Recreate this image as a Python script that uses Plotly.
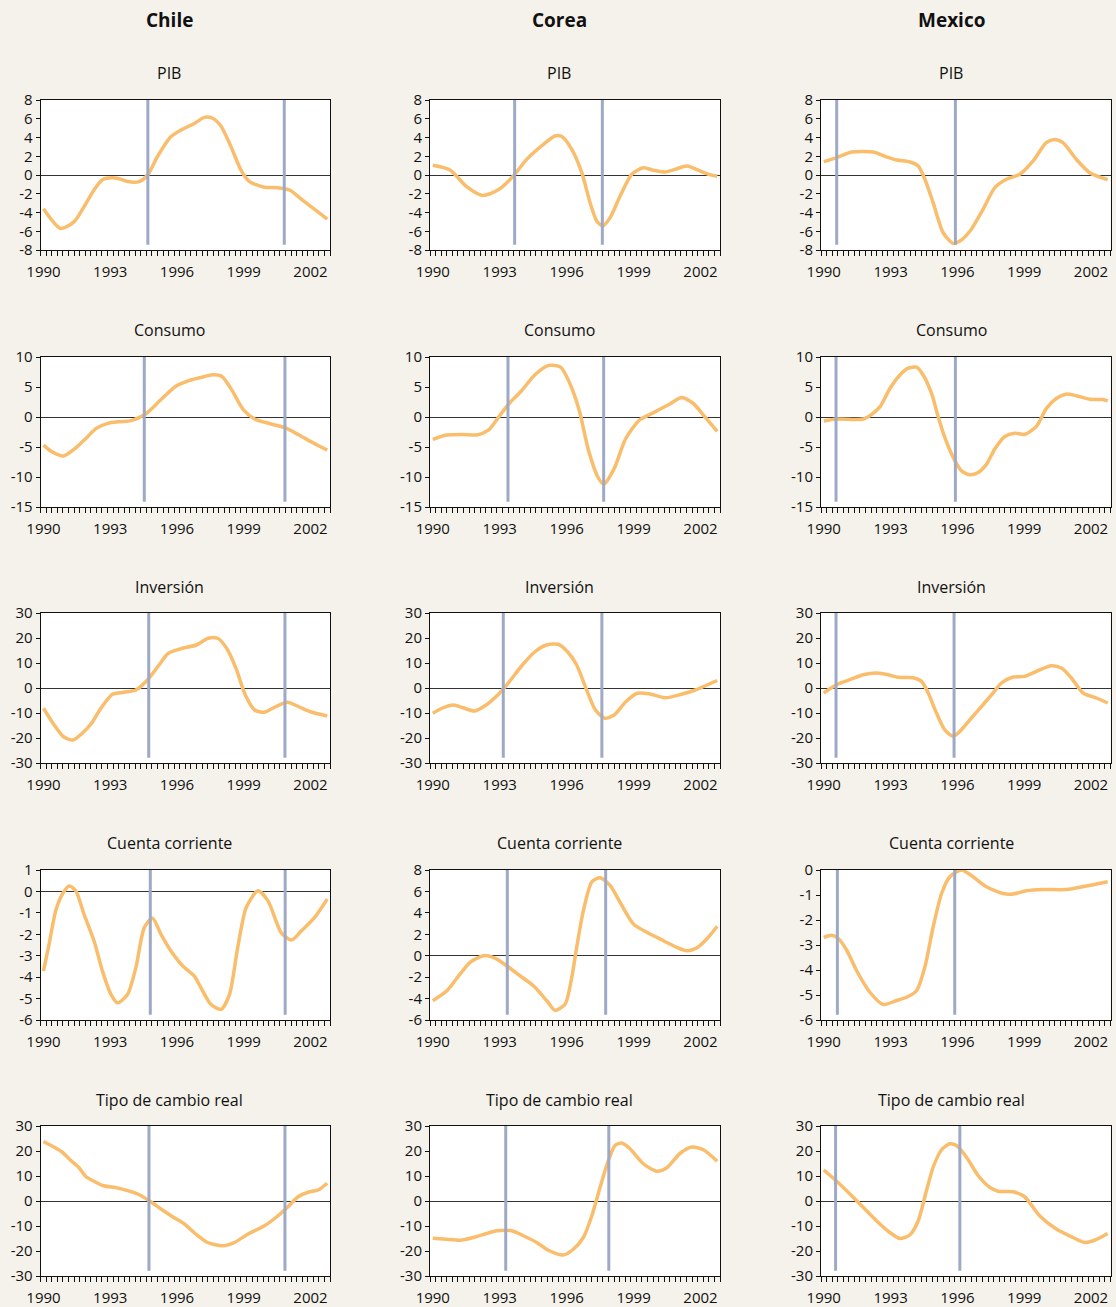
import plotly.graph_objects as go

W, H = 1116, 1307

countries = ["Chile", "Corea", "Mexico"]
indicators = ["PIB", "Consumo", "Inversión", "Cuenta corriente", "Tipo de cambio real"]
x_tick_vals = [1990, 1993, 1996, 1999, 2002]
x_tick_text = ["1990", "1993", "1996", "1999", "2002"]

# ---------------- Chile ----------------
chile_pib_t = [1990.0, 1990.77, 1991.37, 1991.82, 1992.27, 1992.65, 1993.1, 1993.4, 1993.78, 1994.3, 1994.68,
               1995.13, 1995.73, 1996.18, 1996.78, 1997.23, 1997.6, 1997.98, 1998.43, 1998.88, 1999.26,
               1999.93, 2000.5, 2001.06, 2001.6, 2002.2, 2002.75]
chile_pib_v = [-3.6, -5.7, -5.0, -3.4, -1.6, -0.5, -0.3, -0.4, -0.7, -0.7, 0.0,
               2.0, 4.1, 4.8, 5.5, 6.15, 6.05, 5.2, 3.0, 0.5, -0.7,
               -1.3, -1.35, -1.6, -2.6, -3.7, -4.7]

chile_cons_t = [1990.0, 1990.38, 1990.9, 1991.42, 1991.95, 1992.37, 1992.89, 1993.41, 1993.94, 1994.57, 1995.19,
                1995.93, 1996.56, 1997.08, 1997.6, 1998.02, 1998.44, 1998.97, 1999.49, 2000.23, 2000.85,
                2001.48, 2002.11, 2002.75]
chile_cons_v = [-4.7, -5.8, -6.5, -5.25, -3.4, -1.9, -1.06, -0.78, -0.6, 0.45, 2.57,
                5.08, 6.09, 6.6, 7.04, 6.76, 4.64, 1.28, -0.34, -1.17, -1.79,
                -3.0, -4.3, -5.53]

chile_inv_t = [1990.0, 1990.48, 1990.9, 1991.32, 1991.74, 1992.16, 1992.58, 1993.1, 1993.63, 1994.15, 1994.67,
               1995.3, 1995.61, 1996.24, 1996.87, 1997.4, 1997.82, 1998.23, 1998.65, 1999.07, 1999.49,
               1999.91, 2000.43, 2000.96, 2001.48, 2002.0, 2002.75]
chile_inv_v = [-8.1, -14.8, -19.5, -20.8, -18.1, -14.1, -8.1, -2.5, -1.7, -0.8, 3.2,
               10.5, 13.9, 15.9, 17.2, 19.9, 19.9, 15.9, 7.9, -2.8, -8.8,
               -9.7, -7.5, -5.7, -7.5, -9.5, -11.2]

chile_cc_t = [1990.0, 1990.25, 1990.55, 1990.85, 1991.15, 1991.45, 1991.82, 1992.27, 1992.65, 1993.03, 1993.33,
              1993.78, 1994.15, 1994.53, 1994.9, 1995.28, 1995.73, 1996.26, 1996.78, 1997.08, 1997.53,
              1997.98, 1998.36, 1998.73, 1999.11, 1999.64, 2000.09, 2000.68, 2001.14, 2001.59, 2002.18, 2002.75]
chile_cc_v = [-3.72, -2.47, -0.9, -0.13, 0.25, 0.03, -1.06, -2.3, -3.72, -4.8, -5.2,
              -4.8, -3.56, -1.69, -1.25, -2.0, -2.78, -3.48, -3.95, -4.5, -5.28,
              -5.5, -4.8, -2.6, -0.75, 0.03, -0.44, -1.92, -2.27, -1.84, -1.22, -0.36]

chile_tcr_t = [1990.0, 1990.47, 1990.85, 1991.23, 1991.6, 1991.9, 1992.35, 1992.65, 1993.33, 1993.78, 1994.23,
               1994.75, 1995.28, 1995.8, 1996.33, 1996.86, 1997.38, 1998.06, 1998.58, 1999.18, 1999.93,
               2000.54, 2000.99, 2001.44, 2001.89, 2002.34, 2002.75]
chile_tcr_v = [23.8, 21.6, 19.5, 16.2, 13.3, 9.8, 7.5, 6.2, 5.2, 4.15, 2.8,
               0.13, -3.2, -6.3, -9.2, -13.3, -16.6, -17.9, -16.6, -13.3, -9.9,
               -5.9, -2.3, 1.7, 3.5, 4.4, 7.1]

# ---------------- Corea ----------------
corea_pib_t = [1990.0, 1990.77, 1991.52, 1992.19, 1992.57, 1993.01, 1993.61, 1994.21, 1994.96, 1995.48, 1995.78,
               1996.23, 1996.68, 1997.05, 1997.35, 1997.62, 1997.95, 1998.4, 1998.92, 1999.44, 1999.89,
               2000.41, 2000.86, 2001.39, 2001.98, 2002.36, 2002.75]
corea_pib_v = [1.03, 0.53, -1.25, -2.17, -2.0, -1.46, -0.1, 1.67, 3.27, 4.16, 4.1,
               2.74, 0.25, -2.95, -4.9, -5.44, -4.55, -2.24, 0.07, 0.78, 0.5,
               0.32, 0.6, 0.96, 0.43, 0.07, -0.14]

corea_cons_t = [1990.0, 1990.61, 1991.35, 1991.97, 1992.49, 1992.91, 1993.43, 1993.95, 1994.58, 1995.2, 1995.73,
                1996.14, 1996.56, 1996.98, 1997.4, 1997.66, 1998.13, 1998.65, 1999.27, 1999.9, 2000.63,
                2001.15, 2001.67, 2002.19, 2002.75]
corea_cons_v = [-3.74, -3.0, -2.9, -3.0, -2.2, -0.22, 2.29, 4.25, 7.04, 8.6, 8.32,
                5.64, 1.17, -5.53, -10.0, -11.2, -8.6, -3.58, -0.5, 0.73, 2.18,
                3.24, 2.29, 0.06, -2.4]

corea_inv_t = [1990.0, 1990.41, 1990.93, 1991.35, 1991.87, 1992.39, 1992.91, 1993.43, 1993.95, 1994.58, 1995.1,
               1995.62, 1996.04, 1996.45, 1996.87, 1997.29, 1997.71, 1998.13, 1998.65, 1999.17, 1999.69,
               2000.42, 2001.15, 2001.77, 2002.75]
corea_inv_v = [-10.1, -8.1, -6.8, -7.9, -9.2, -6.8, -2.8, 2.5, 8.5, 14.5, 17.2,
               17.5, 14.5, 9.2, -0.13, -8.8, -12.1, -10.8, -5.5, -2.1, -2.3,
               -3.9, -2.5, -0.8, 3.0]

corea_cc_t = [1990.0, 1990.62, 1991.22, 1991.67, 1992.27, 1992.79, 1993.31, 1993.91, 1994.51, 1995.11, 1995.48,
              1995.93, 1996.23, 1996.45, 1996.75, 1997.13, 1997.5, 1997.95, 1998.39, 1998.99, 1999.59,
              2000.34, 2000.94, 2001.39, 2001.83, 2002.28, 2002.75]
corea_cc_v = [-4.2, -3.3, -1.72, -0.62, 0.0, -0.22, -0.94, -1.87, -2.81, -4.2, -5.1,
              -4.53, -2.03, 0.78, 4.2, 6.9, 7.28, 6.56, 5.0, 2.97, 2.19,
              1.4, 0.78, 0.47, 0.72, 1.56, 2.75]

corea_tcr_t = [1990.0, 1990.62, 1991.22, 1991.82, 1992.42, 1992.87, 1993.54, 1994.06, 1994.66, 1995.18, 1995.85,
               1996.3, 1996.75, 1997.13, 1997.5, 1997.87, 1998.17, 1998.47, 1998.84, 1999.44, 2000.04,
               2000.49, 2001.09, 2001.61, 2002.13, 2002.75]
corea_tcr_v = [-14.9, -15.3, -15.7, -14.6, -13.0, -11.9, -11.9, -13.9, -16.6, -19.7, -21.6,
               -19.3, -14.6, -5.9, 5.5, 16.2, 22.2, 23.2, 20.9, 14.9, 11.9,
               13.3, 19.1, 21.6, 20.5, 15.9]

# ---------------- Mexico ----------------
mexico_pib_t = [1990.0, 1990.58, 1991.25, 1992.22, 1992.74, 1993.27, 1993.87, 1994.24, 1994.54, 1994.91, 1995.36,
                1995.81, 1996.11, 1996.56, 1997.15, 1997.68, 1998.2, 1998.8, 1999.4, 1999.99, 2000.36,
                2000.74, 2001.34, 2001.94, 2002.75]
mexico_pib_v = [1.42, 1.85, 2.45, 2.45, 2.0, 1.6, 1.39, 0.96, -0.46, -2.95, -6.16,
                -7.3, -7.05, -6.0, -3.67, -1.35, -0.46, 0.07, 1.5, 3.45, 3.8,
                3.45, 1.67, 0.25, -0.5]

mexico_cons_t = [1990.0, 1990.58, 1991.77, 1992.15, 1992.52, 1992.97, 1993.42, 1993.79, 1994.17, 1994.46, 1994.84,
                 1995.14, 1995.43, 1995.81, 1996.18, 1996.56, 1996.93, 1997.31, 1997.68, 1998.13, 1998.57,
                 1999.02, 1999.55, 1999.99, 2000.44, 2000.89, 2001.34, 2001.94, 2002.53, 2002.75]
mexico_cons_v = [-0.67, -0.34, -0.34, 0.45, 1.68, 4.76, 7.0, 8.13, 8.3, 7.0, 3.92,
                 0.0, -3.36, -6.73, -8.97, -9.64, -9.25, -7.85, -5.33, -3.25, -2.69,
                 -2.91, -1.57, 1.4, 3.08, 3.81, 3.53, 2.97, 2.91, 2.7]

mexico_inv_t = [1990.0, 1990.58, 1991.17, 1991.77, 1992.37, 1992.89, 1993.34, 1994.01, 1994.39, 1994.69, 1995.06,
                1995.43, 1995.81, 1996.18, 1996.63, 1997.15, 1997.6, 1997.98, 1998.5, 1999.02, 1999.55,
                2000.22, 2000.67, 2001.12, 2001.64, 2002.24, 2002.75]
mexico_inv_v = [-2.0, 1.33, 3.33, 5.33, 6.0, 5.33, 4.27, 4.13, 2.67, -2.0, -10.0,
                -16.7, -19.3, -16.7, -12.0, -6.7, -2.0, 2.0, 4.4, 4.67, 6.67,
                8.93, 8.0, 4.0, -2.0, -4.0, -6.0]

mexico_cc_t = [1990.0, 1990.35, 1990.65, 1991.03, 1991.47, 1992.07, 1992.67, 1993.27, 1993.72, 1994.17, 1994.54,
               1994.91, 1995.29, 1995.66, 1996.18, 1996.7, 1997.3, 1998.05, 1998.5, 1999.1, 1999.84,
               2000.89, 2001.79, 2002.75]
mexico_cc_v = [-2.7, -2.61, -2.74, -3.21, -4.02, -4.89, -5.38, -5.22, -5.09, -4.82, -3.88,
               -2.28, -0.94, -0.27, 0.0, -0.27, -0.67, -0.94, -0.96, -0.83, -0.78,
               -0.78, -0.64, -0.47]

mexico_tcr_t = [1990.0, 1990.58, 1991.32, 1991.92, 1992.52, 1992.97, 1993.42, 1993.87, 1994.24, 1994.61, 1994.91,
                1995.29, 1995.66, 1995.96, 1996.41, 1996.93, 1997.45, 1997.83, 1998.5, 1999.02, 1999.69,
                2000.44, 2001.19, 2001.71, 2002.16, 2002.75]
mexico_tcr_v = [12.4, 7.9, 1.5, -3.9, -9.2, -12.6, -15.0, -13.5, -7.9, 4.1, 13.5,
                20.5, 22.9, 22.2, 17.5, 10.2, 5.5, 3.9, 3.7, 1.7, -5.9,
                -11.2, -14.6, -16.6, -15.7, -13.0]

# Crisis-date markers (vertical lines), one pair per panel
chile_marks = [[1994.69, 2000.82], [1994.53, 2000.85], [1994.73, 2000.85], [1994.8, 2000.86], [1994.74, 2000.85]]
corea_marks = [[1993.67, 1997.6], [1993.37, 1997.66], [1993.16, 1997.58], [1993.34, 1997.75], [1993.27, 1997.89]]
mexico_marks = [[1990.58, 1995.91], [1990.55, 1995.91], [1990.55, 1995.85], [1990.61, 1995.88], [1990.53, 1996.11]]

# Y axis ranges and ticks
y_ranges = {
    "PIB": ([-8, 8], 2),
    "Consumo": ([-15, 10], 5),
    "Inversión": ([-30, 30], 10),
    "Tipo de cambio real": ([-30, 30], 10),
}
cc_ranges = {"Chile": ([-6, 1], 1), "Corea": ([-6, 8], 2), "Mexico": ([-6, 0], 1)}

series = {
    "Chile": [(chile_pib_t, chile_pib_v), (chile_cons_t, chile_cons_v), (chile_inv_t, chile_inv_v),
              (chile_cc_t, chile_cc_v), (chile_tcr_t, chile_tcr_v)],
    "Corea": [(corea_pib_t, corea_pib_v), (corea_cons_t, corea_cons_v), (corea_inv_t, corea_inv_v),
              (corea_cc_t, corea_cc_v), (corea_tcr_t, corea_tcr_v)],
    "Mexico": [(mexico_pib_t, mexico_pib_v), (mexico_cons_t, mexico_cons_v), (mexico_inv_t, mexico_inv_v),
               (mexico_cc_t, mexico_cc_v), (mexico_tcr_t, mexico_tcr_v)],
}
marks = {"Chile": chile_marks, "Corea": corea_marks, "Mexico": mexico_marks}

# ---------------- layout geometry (pixels) ----------------
col_px = [(40.7, 330.0), (430.0, 720.0), (821.0, 1110.5)]
row_px = [(100, 250), (357, 507), (613, 763), (870, 1020), (1126, 1276)]
col_center = [169, 559, 951]
row_title_y = [73, 330, 587, 843, 1100]
header_y = 20

FONT = "Open Sans, DejaVu Sans Condensed, sans-serif"
LINE_COLOR = "#f9bd6c"
MARK_COLOR = "#9ea9c6"
BG = "#f5f2eb"

fig = go.Figure()
layout = dict(
    width=W, height=H, margin=dict(l=0, r=0, t=0, b=0, pad=0, autoexpand=False),
    paper_bgcolor=BG, plot_bgcolor="white", showlegend=False,
    font=dict(family=FONT, size=15, color="#111"),
)
shapes = []
annotations = []

n = 0
for ci, country in enumerate(countries):
    for ri, ind in enumerate(indicators):
        n += 1
        xa = "x" if n == 1 else f"x{n}"
        ya = "y" if n == 1 else f"y{n}"
        t, v = series[country][ri]
        fig.add_trace(go.Scatter(x=t, y=v, mode="lines", xaxis=xa, yaxis=ya,
                                 line=dict(color=LINE_COLOR, width=3.5, shape="spline", smoothing=0.7),
                                 hoverinfo="skip"))
        if ind == "Cuenta corriente":
            yr, dt = cc_ranges[country]
        else:
            yr, dt = y_ranges[ind]
        yvals = list(range(yr[0], yr[1] + 1, dt))
        ytext = [str(val) for val in yvals]
        x0p, x1p = col_px[ci]
        y0p, y1p = row_px[ri]
        layout["xaxis" if n == 1 else f"xaxis{n}"] = dict(
            domain=[x0p / W, x1p / W], anchor=ya, range=[1989.875, 2002.875], automargin=False,
            tickmode="array", tickvals=x_tick_vals, ticktext=x_tick_text,
            ticks="outside", ticklen=8, tickcolor="rgba(0,0,0,0)",
            minor=dict(tickmode="linear", tick0=1989.875, dtick=0.25, ticks="outside",
                       ticklen=5, tickcolor="#111", tickwidth=1, showgrid=False),
            showgrid=False, zeroline=False, showline=True, mirror=True,
            linecolor="#111", linewidth=1, fixedrange=True,
            tickfont=dict(size=15, family=FONT, color="#111"),
        )
        layout["yaxis" if n == 1 else f"yaxis{n}"] = dict(
            domain=[1 - y1p / H, 1 - y0p / H], anchor=xa, range=yr, automargin=False,
            tickmode="array", tickvals=yvals, ticktext=ytext,
            ticks="outside", ticklen=4, tickcolor="#111",
            showgrid=False, zeroline=True, zerolinecolor="#333", zerolinewidth=1,
            showline=True, mirror=True, linecolor="#111", linewidth=1, fixedrange=True,
            tickfont=dict(size=15, family=FONT, color="#111"),
        )
        for m in marks[country][ri]:
            shapes.append(dict(type="line", xref=xa, yref=f"{ya} domain", x0=m, x1=m, y0=0.035, y1=1,
                               line=dict(color=MARK_COLOR, width=3), layer="above"))
        annotations.append(dict(text=ind, xref="paper", yref="paper", x=col_center[ci] / W,
                                y=1 - row_title_y[ri] / H, showarrow=False, xanchor="center", yanchor="middle",
                                font=dict(size=16, family=FONT, color="#111")))
    annotations.append(dict(text=f"<b>{country}</b>", xref="paper", yref="paper", x=col_center[ci] / W,
                            y=1 - header_y / H, showarrow=False, xanchor="center", yanchor="middle",
                            font=dict(size=19, family=FONT, color="#111")))

layout["shapes"] = shapes
layout["annotations"] = annotations
fig.update_layout(**layout)
fig.write_html("out.html", config={"displayModeBar": False},
               post_script="document.body.style.margin='0px';document.body.style.overflow='hidden';")
